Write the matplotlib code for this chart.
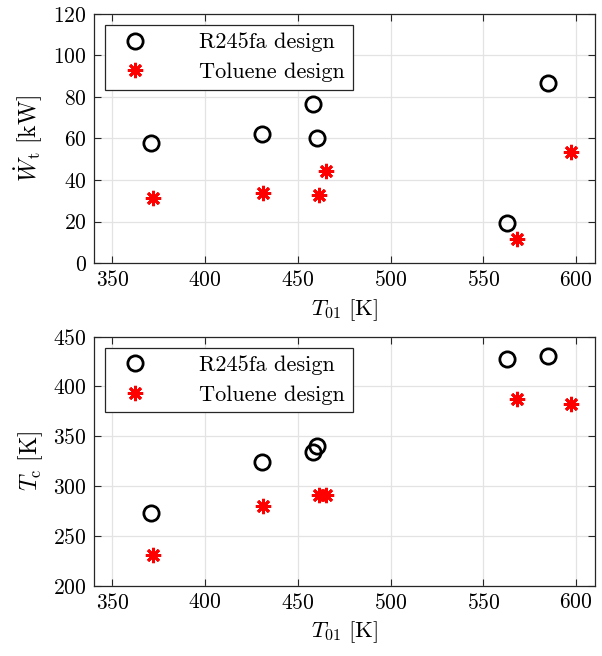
import matplotlib
matplotlib.use("Agg")
import matplotlib.pyplot as plt

# --- Data ---
r245_T01 = [370.9, 430.5, 458.1, 460.5, 562.6, 585.0]
r245_W = [58.0, 62.2, 76.5, 60.2, 19.4, 86.7]
r245_Tc = [273.0, 324.2, 334.5, 340.6, 427.9, 430.9]

tol_T01 = [371.7, 431.3, 461.2, 465.0, 568.2, 597.4]
tol_W = [31.2, 33.6, 32.6, 44.3, 11.4, 53.3]
tol_Tc = [231.1, 279.6, 290.7, 291.4, 387.7, 382.7]

x_ticks = [350, 400, 450, 500, 550, 600]
w_ticks = [0, 20, 40, 60, 80, 100, 120]
tc_ticks = [200, 250, 300, 350, 400, 450]

# --- Style ---
plt.rcParams['font.family'] = 'serif'
plt.rcParams['font.serif'] = ['cmr10']
plt.rcParams['mathtext.fontset'] = 'cm'
plt.rcParams['axes.formatter.use_mathtext'] = True
plt.rcParams['font.size'] = 16

fig = plt.figure(figsize=(6.02, 6.56), dpi=100)
ax1 = fig.add_axes([0.156, 0.599, 0.832, 0.380])
ax2 = fig.add_axes([0.156, 0.107, 0.832, 0.380])

circ_kw = dict(linestyle='none', marker='o', markersize=11, markerfacecolor='none',
               markeredgecolor='black', markeredgewidth=2)
star_kw = dict(linestyle='none', marker=(8, 2, 0), markersize=11,
               markeredgecolor='red', markeredgewidth=2, color='red')


def style_axes(ax, yticks):
    ax.set_xlim(340, 610)
    ax.set_xticks(x_ticks)
    ax.set_ylim(yticks[0], yticks[-1])
    ax.set_yticks(yticks)
    ax.grid(True, color='#e3e3e3', linewidth=0.9)
    ax.set_axisbelow(True)
    ax.tick_params(direction='in', length=5, width=0.8, top=True, right=True,
                   colors='#262626', labelcolor='black', labelsize=15.5, pad=5)
    for s in ax.spines.values():
        s.set_color('#262626')
        s.set_linewidth(0.9)
    ax.set_xlabel(r'$T_{01}\ [\mathrm{K}]$', fontsize=16.5, labelpad=5)


for ax, y1, y2, yt, ylab in [
    (ax1, r245_W, tol_W, w_ticks, r'$\dot{W}_{\mathrm{t}}\ [\mathrm{kW}]$'),
    (ax2, r245_Tc, tol_Tc, tc_ticks, r'$T_{\mathrm{c}}\ [\mathrm{K}]$'),
]:
    ax.plot(r245_T01, y1, label='R245fa design', **circ_kw)
    ax.plot(tol_T01, y2, label='Toluene design', **star_kw)
    style_axes(ax, yt)
    ax.set_ylabel(ylab, fontsize=17, labelpad=6)
    leg = ax.legend(loc='upper left', fontsize=16, handletextpad=1.9,
                    handlelength=2.0, borderpad=0.35, labelspacing=0.45,
                    fancybox=False, framealpha=1, borderaxespad=0.5)
    leg.get_frame().set_edgecolor('#262626')
    leg.get_frame().set_linewidth(0.9)

fig.savefig('out.png', dpi=100)
